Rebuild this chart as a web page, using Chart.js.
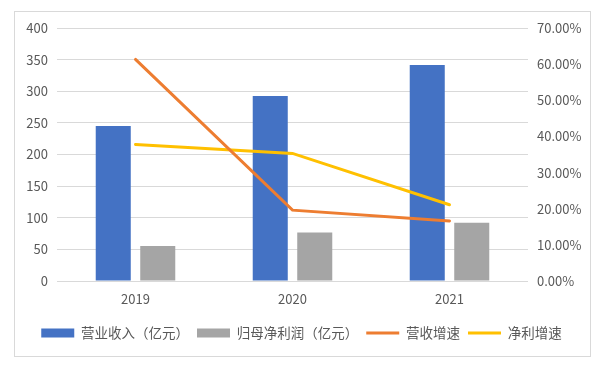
<!DOCTYPE html>
<html>
<head>
<meta charset="utf-8">
<script src="https://cdn.jsdelivr.net/npm/chart.js@4.4.0/dist/chart.umd.min.js"></script>
<style>
  html, body { margin: 0; padding: 0; background: #ffffff; }
  #wrap { position: relative; width: 603px; height: 370px; }
</style>
</head>
<body>
<div id="wrap"><canvas id="c" width="603" height="370"></canvas></div>
<script>
// ---- data ----
const categories = ['2019', '2020', '2021'];
const revenue = [245, 292.5, 341.5];          // 营业收入（亿元）
const netProfit = [55.5, 76.5, 92];           // 归母净利润（亿元）
const revenueGrowth = [0.613, 0.196, 0.166];  // 营收增速
const profitGrowth = [0.378, 0.353, 0.211];   // 净利增速
const seriesNames = ['营业收入（亿元）', '归母净利润（亿元）', '营收增速', '净利增速'];
const leftTicks = [0, 50, 100, 150, 200, 250, 300, 350, 400];
const rightTicks = [0, 0.1, 0.2, 0.3, 0.4, 0.5, 0.6, 0.7];

const FONT = "'Noto Sans CJK SC', 'Noto Sans', sans-serif";
const TEXT = '#595959';
const GRID = '#d9d9d9';
const colors = ['#4472C4', '#A5A5A5', '#ED7D31', '#FFC000'];

const framePlugin = {
  id: 'frame',
  beforeDraw(chart) {
    const ctx = chart.ctx;
    ctx.save();
    ctx.fillStyle = '#ffffff';
    ctx.fillRect(0, 0, chart.width, chart.height);
    ctx.strokeStyle = GRID;
    ctx.lineWidth = 1;
    ctx.strokeRect(14.5, 11.5, 576, 345);
    ctx.restore();
  }
};

new Chart(document.getElementById('c'), {
  type: 'bar',
  data: {
    labels: categories,
    datasets: [
      { label: seriesNames[0], data: revenue, backgroundColor: colors[0], yAxisID: 'y', order: 2,
        categoryPercentage: 0.567, barPercentage: 0.787 },
      { label: seriesNames[1], data: netProfit, backgroundColor: colors[1], yAxisID: 'y', order: 2,
        categoryPercentage: 0.567, barPercentage: 0.787 },
      { type: 'line', label: seriesNames[2], data: revenueGrowth, borderColor: colors[2], backgroundColor: colors[2],
        borderWidth: 3, pointRadius: 0, tension: 0, yAxisID: 'y1', order: 0, borderCapStyle: 'round' },
      { type: 'line', label: seriesNames[3], data: profitGrowth, borderColor: colors[3], backgroundColor: colors[3],
        borderWidth: 3, pointRadius: 0, tension: 0, yAxisID: 'y1', order: 1, borderCapStyle: 'round' }
    ]
  },
  options: {
    responsive: false,
    animation: false,
    devicePixelRatio: 1,
    layout: { padding: { top: 28, left: 0, right: 0, bottom: 20.25 } },
    plugins: {
      tooltip: { enabled: false },
      legend: {
        position: 'bottom',
        align: 'center',
        labels: {
          usePointStyle: true,
          pointStyleWidth: 33,
          boxHeight: 9,
          padding: 8,
          color: TEXT,
          font: { family: FONT, size: 13.5 },
          generateLabels(chart) {
            return chart.data.datasets.map((ds, i) => {
              const isLine = ds.type === 'line';
              return {
                text: ds.label,
                fillStyle: colors[i],
                strokeStyle: colors[i],
                lineWidth: isLine ? 3 : 0,
                pointStyle: isLine ? 'line' : 'rect',
                hidden: false,
                datasetIndex: i,
                fontColor: TEXT
              };
            });
          }
        }
      }
    },
    scales: {
      x: {
        grid: { display: false, drawTicks: false },
        border: { display: false },
        ticks: { color: TEXT, font: { family: FONT, size: 13 }, padding: 10 },
        afterFit(scale) { scale.height = 37.25; }
      },
      y: {
        position: 'left',
        min: 0, max: 400,
        afterBuildTicks(scale) { scale.ticks = leftTicks.map(v => ({ value: v })); },
        grid: { color: GRID, lineWidth: 1, drawTicks: false },
        border: { display: false },
        ticks: { color: TEXT, font: { family: FONT, size: 13 }, padding: 9 },
        afterFit(scale) { scale.width = 57; }
      },
      y1: {
        position: 'right',
        min: 0, max: 0.7,
        afterBuildTicks(scale) { scale.ticks = rightTicks.map(v => ({ value: v })); },
        grid: { drawOnChartArea: false, drawTicks: false },
        border: { display: false },
        ticks: {
          color: TEXT, font: { family: FONT, size: 13 }, padding: 9,
          callback: (v) => (v * 100).toFixed(2) + '%'
        },
        afterFit(scale) { scale.width = 75; }
      }
    }
  },
  plugins: [framePlugin]
});
</script>
</body>
</html>
